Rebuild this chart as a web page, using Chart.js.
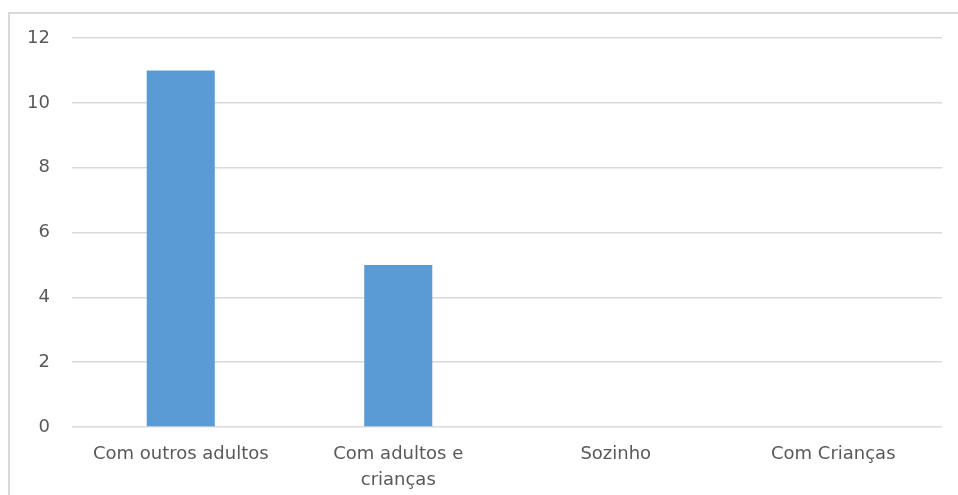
<!DOCTYPE html>
<html>
<head>
<meta charset="utf-8">
<script src="https://cdn.jsdelivr.net/npm/chart.js@4/dist/chart.umd.min.js"></script>
<style>
    html, body { margin: 0; padding: 0; background: #fff; overflow: hidden; }
    #frame {
        position: absolute; left: 8px; top: 12px;
        width: 1000px; height: 600px;
        border: 2px solid #d9d9d9;
    }
    #wrap { position: absolute; left: 0; top: 0; width: 958px; height: 495px; }
</style>
</head>
<body>
<div id="frame"></div>
<div id="wrap"><canvas id="chartCanvas"></canvas></div>
<script>
    // categorias e contagens
    const categorias = [
        "Com outros adultos",
        ["Com adultos e", "crianças"],
        "Sozinho",
        "Com Crianças"
    ];
    const valores = [11, 5, 0, 0];
    const yMin = 0;
    const yMax = 12;
    const yPasso = 2;

    const ctx = document.getElementById('chartCanvas');

    const chart = new Chart(ctx, {
        type: 'bar',
        data: {
            labels: categorias,
            datasets: [{
                data: valores,
                backgroundColor: '#5b9bd5',
                borderWidth: 0,
                categoryPercentage: 1,
                barPercentage: 0.313
            }]
        },
        options: {
            responsive: true,
            maintainAspectRatio: false,
            animation: false,
            layout: { padding: { left: 0, right: 16, top: 38, bottom: 0 } },
            plugins: {
                legend: { display: false },
                tooltip: { enabled: false }
            },
            scales: {
                x: {
                    grid: { display: false },
                    border: { display: false },
                    ticks: {
                        color: '#595959',
                        font: { family: 'DejaVu Sans', size: 18, lineHeight: 1.44 },
                        padding: 6,
                        maxRotation: 0,
                        autoSkip: false
                    },
                    afterFit: function (axis) { axis.height = 68; }
                },
                y: {
                    min: yMin,
                    max: yMax,
                    grid: { color: '#d9d9d9', lineWidth: 1.5, drawTicks: false },
                    border: { display: false },
                    ticks: {
                        stepSize: yPasso,
                        color: '#595959',
                        font: { family: 'DejaVu Sans', size: 18 },
                        padding: 22
                    },
                    afterFit: function (axis) { axis.width = 72; }
                }
            }
        }
    });
</script>
</body>
</html>
